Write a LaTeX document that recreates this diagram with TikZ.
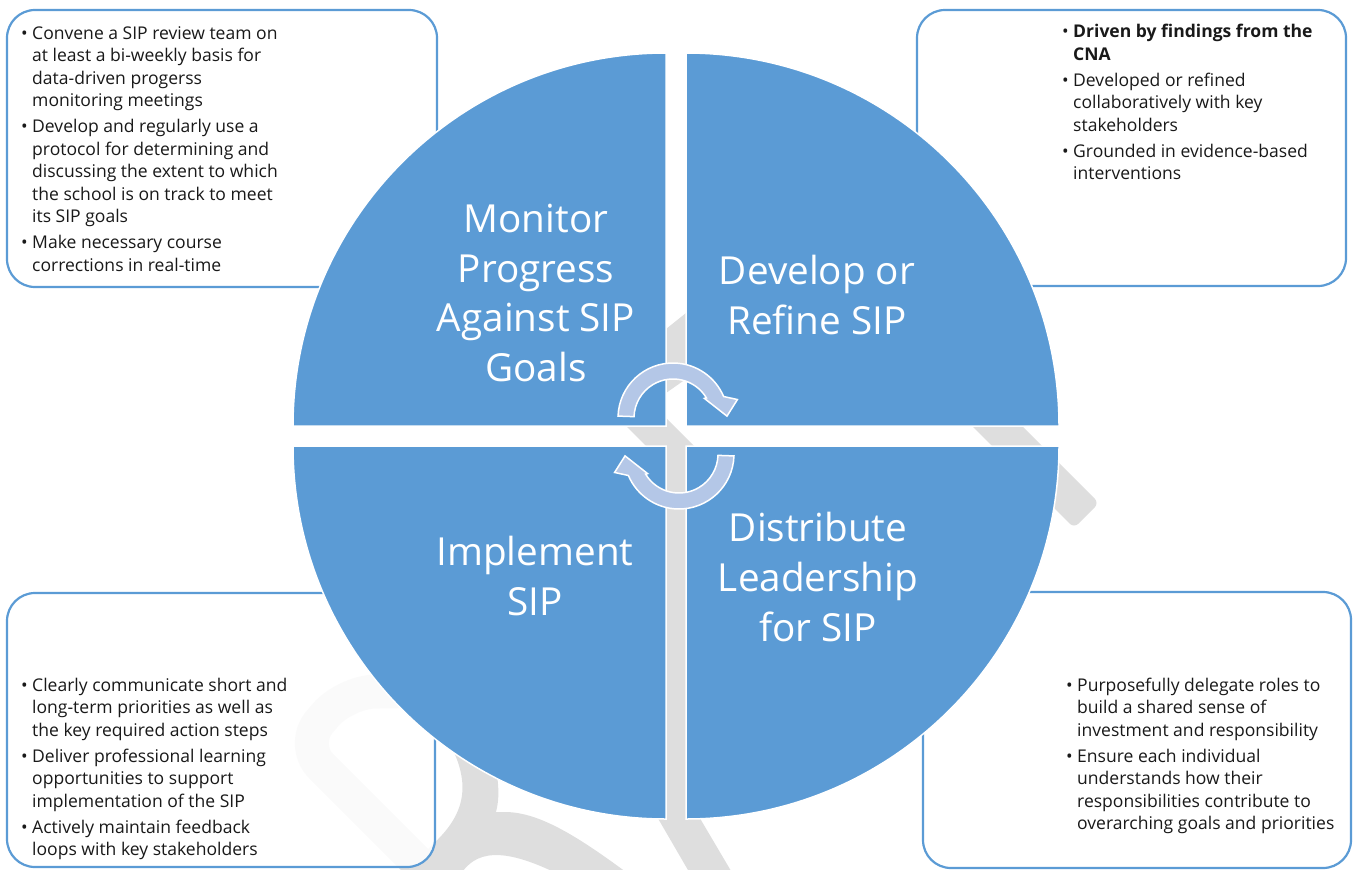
\documentclass[tikz,border=0pt]{standalone}
\usepackage{fontspec}
\setmainfont{Open Sans}
\usetikzlibrary{calc}

\definecolor{sipblue}{HTML}{5B9BD5}
\definecolor{arrowblue}{HTML}{B4C7E7}
\definecolor{markgray}{HTML}{DEDEDE}

\tikzset{
  quarter/.style={fill=sipblue,draw=white,line width=1.5bp},
  notebox/.style={draw=sipblue,line width=2.2bp,rounded corners=28bp,fill=white,fill opacity=0.88},
  notes/.style={anchor=base west,inner sep=0pt,text=black!90,font=\fontsize{17.6}{22.6}\selectfont},
  phase/.style={text=white,align=center,inner sep=0pt,font=\fontsize{38.8}{50}\selectfont},
  cyclearrow/.style={fill=arrowblue,draw=white,line width=1.5bp},
  watermark/.style={fill=markgray,draw=none}
}

\begin{document}
\begin{tikzpicture}[x=1bp,y=-1bp]
\useasboundingbox (0,0) rectangle (1354,869);
\clip (0,0) rectangle (1354,869);

% watermark
\fill[watermark,rounded corners=6bp] (873,327) -- (898,302) -- (1099,503) -- (1074,528) -- cycle;
\fill[watermark] (600,400) -- (648,400) -- (900,652) -- (852,652) -- cycle;
\fill[watermark] (666,329) -- (686,313) -- (686,379) -- (666,393) -- cycle;
\fill[watermark] (666,446) rectangle (686,822);
\fill[watermark] (656,815) -- (698,815) -- (760,920) -- (717,920) -- cycle;
\fill[watermark] (449,742) .. controls (472,785) and (465,815) .. (432,845) -- (405,875)
  -- (460,875) .. controls (475,852) and (500,845) .. (560,875) -- (630,875)
  .. controls (580,838) and (540,812) .. (505,812) -- (496,812)
  .. controls (499,800) and (499,790) .. (497,775) -- cycle;
\draw[markgray,line width=34bp,rounded corners=30bp] (480,690) -- (345,692) -- (300,745) -- (425,870);

% note boxes
\draw[notebox] (7,10) rectangle (437,287);
\draw[notebox] (917,10) rectangle (1346,286);
\draw[notebox] (7,593) rectangle (435,867);
\draw[notebox] (923,592) rectangle (1351,868);

% the four quarters
\draw[quarter] (666,426) -- (293,426) arc[start angle=180,end angle=270,radius=373] -- cycle;
\draw[quarter] (686,426) -- (686,53) arc[start angle=270,end angle=360,radius=373] -- cycle;
\draw[quarter] (686,446) -- (1059,446) arc[start angle=0,end angle=90,radius=373] -- cycle;
\draw[quarter] (666,446) -- (666,819) arc[start angle=90,end angle=180,radius=373] -- cycle;

% cycle arrows
\draw[cyclearrow,shift={(673,418)}] (182:55) arc[start angle=182,end angle=337,radius=55]
  -- (344:67) -- (358:54) -- (328:37) -- (329:39) arc[start angle=329,end angle=182,radius=39] -- cycle;
\draw[cyclearrow,shift={(679,454)}] (2:55) arc[start angle=2,end angle=157,radius=55]
  -- (164:67) -- (178:54) -- (148:37) -- (149:39) arc[start angle=149,end angle=2,radius=39] -- cycle;

\node (monitor) [phase] at (536,293) {Monitor\\Progress\\Against SIP\\Goals};
\node (develop) [phase] at (817,295) {Develop or\\Refine SIP};
\node (implement) [phase] at (535,576) {Implement\\SIP};
\node (distribute) [phase] at (818,577) {Distribute\\Leadership\\for SIP};

\node (monitornotes) [notes] at (21,39.3) {\begin{tabular}[t]{@{}p{11bp}@{}l@{}}
\textbullet & Convene a SIP review team on\\
 & at least a bi-weekly basis for\\
 & data-driven progerss\\
 & monitoring meetings\\[3.5bp]
\textbullet & Develop and regularly use a\\
 & protocol for determining and\\
 & discussing the extent to which\\
 & the school is on track to meet\\
 & its SIP goals\\[3.5bp]
\textbullet & Make necessary course\\
 & corrections in real-time
\end{tabular}};

\node (developnotes) [notes] at (1062,37.7) {\begin{tabular}[t]{@{}p{11bp}@{}l@{}}
\textbullet & \textbf{Driven by findings from the}\\
 & \textbf{CNA}\\[3.5bp]
\textbullet & Developed or refined\\
 & collaboratively with key\\
 & stakeholders\\[3.5bp]
\textbullet & Grounded in evidence-based\\
 & interventions
\end{tabular}};

\node (implementnotes) [notes] at (21,691) {\begin{tabular}[t]{@{}p{11bp}@{}l@{}}
\textbullet & Clearly communicate short and\\
 & long-term priorities as well as\\
 & the key required action steps\\[3.5bp]
\textbullet & Deliver professional learning\\
 & opportunities to support\\
 & implementation of the SIP\\[3.5bp]
\textbullet & Actively maintain feedback\\
 & loops with key stakeholders
\end{tabular}};

\node (distributenotes) [notes] at (1066,691) {\begin{tabular}[t]{@{}p{11bp}@{}l@{}}
\textbullet & Purposefully delegate roles to\\
 & build a shared sense of\\
 & investment and responsibility\\[3.5bp]
\textbullet & Ensure each individual\\
 & understands how their\\
 & responsibilities contribute to\\
 & overarching goals and priorities
\end{tabular}};
\end{tikzpicture}
\end{document}
